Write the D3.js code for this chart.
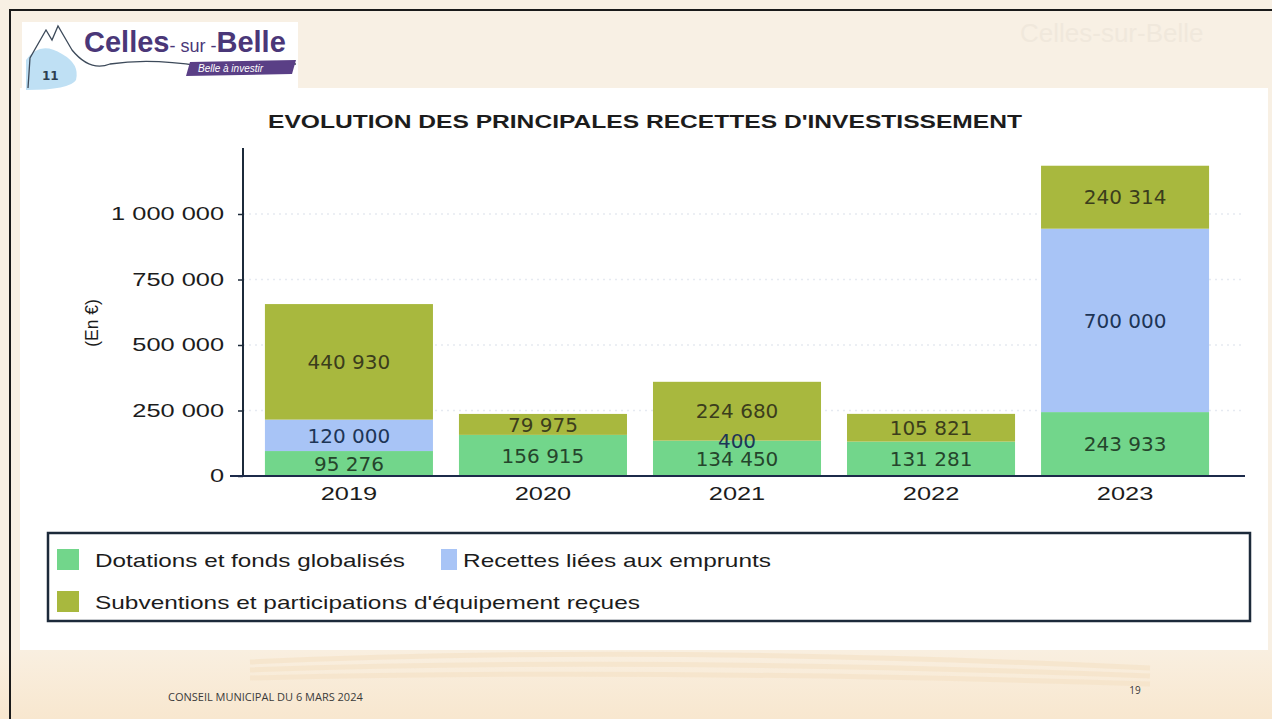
<!DOCTYPE html>
<html>
<head>
<meta charset="utf-8">
<script src="https://cdn.jsdelivr.net/npm/d3@7"></script>
<style>
  body { margin: 0; background: #f8efe2; }
  svg { display: block; }
</style>
</head>
<body>
<div id="chart"></div>
<script>
// ---- data ----
var years = ["2019", "2020", "2021", "2022", "2023"];
var dotations = [95276, 156915, 134450, 131281, 243933];
var emprunts = [120000, 0, 400, 0, 700000];
var subventions = [440930, 79975, 224680, 105821, 240314];
var yTicks = [0, 250000, 500000, 750000, 1000000];
var seriesNames = ["Dotations et fonds globalisés", "Recettes liées aux emprunts", "Subventions et participations d'équipement reçues"];
var seriesColors = ["#72d68b", "#a8c4f6", "#a8b83e"];
var labelColors = ["#25452c", "#1d3556", "#3b3d1c"];

var W = 1272, H = 719;
var svg = d3.select("#chart").append("svg").attr("width", W).attr("height", H);

// stretch a text horizontally (the slide fonts are wider than Arial)
function stretch(sel, factor) {
    sel.each(function () {
        var w = this.getComputedTextLength();
        d3.select(this).attr("textLength", w * factor).attr("lengthAdjust", "spacingAndGlyphs");
    });
}

// slide background
var defs = svg.append("defs");
var grad = defs.append("linearGradient").attr("id", "bottomGrad").attr("x1", 0).attr("y1", 0).attr("x2", 0).attr("y2", 1);
grad.append("stop").attr("offset", "0%").attr("stop-color", "#f9efe0");
grad.append("stop").attr("offset", "100%").attr("stop-color", "#f8e7cf");
svg.append("rect").attr("width", W).attr("height", H).attr("fill", "#f8f0e4");
svg.append("rect").attr("x", 0).attr("y", 650).attr("width", W).attr("height", 69).attr("fill", "url(#bottomGrad)");
// soft waves at bottom
[662, 670, 678].forEach(function (y, i) {
    svg.append("path")
        .attr("d", "M 250 " + y + " Q 640 " + (y - 18 + i * 4) + " 1150 " + (y + 6))
        .attr("fill", "none").attr("stroke", "#f5e2c8").attr("stroke-width", 5).attr("opacity", 0.7);
});
// white content area
svg.append("rect").attr("x", 20).attr("y", 88).attr("width", 1248).attr("height", 562).attr("fill", "#ffffff");

// ghost of logo bleeding through, top right
svg.append("text").attr("x", 1020).attr("y", 42).attr("font-family", "Liberation Sans, Arial, sans-serif")
    .attr("font-size", 26).attr("fill", "#f0e8dc").text("Celles-sur-Belle");

// frame lines
svg.append("line").attr("x1", 9).attr("x2", W).attr("y1", 10).attr("y2", 10).attr("stroke", "#1a1a1a").attr("stroke-width", 2);
svg.append("line").attr("x1", 10).attr("x2", 10).attr("y1", 10).attr("y2", H).attr("stroke", "#1a1a1a").attr("stroke-width", 2);

// ---- logo ----
var logo = svg.append("g");
logo.append("rect").attr("x", 22).attr("y", 22).attr("width", 276).attr("height", 68).attr("fill", "#ffffff");
logo.append("path")
    .attr("d", "M 26 60 Q 40 40 62 54 Q 80 64 76 80 Q 70 90 26 90 Z")
    .attr("fill", "#bfe0f4");
logo.append("path")
    .attr("d", "M 28 88 L 30 58 L 46 30 L 52 40 L 58 26 L 72 50 Q 90 72 110 64 Q 150 58 200 66 L 296 64")
    .attr("fill", "none").attr("stroke", "#3d4a5a").attr("stroke-width", 1.3);
logo.append("text").attr("x", 42).attr("y", 80).attr("font-family", "DejaVu Sans, sans-serif")
    .attr("font-size", 12).attr("font-weight", "bold").attr("fill", "#2c3e50").text("11");
var logoText = logo.append("text").attr("x", 84).attr("y", 52)
    .attr("font-family", "Liberation Sans, Arial, sans-serif").attr("font-weight", "bold").attr("fill", "#4a3778");
logoText.append("tspan").attr("font-size", 29).text("Celles");
logoText.append("tspan").attr("font-size", 18).attr("font-weight", "normal").text("- sur -");
logoText.append("tspan").attr("font-size", 29).text("Belle");
logo.append("path").attr("d", "M 190 62 L 296 60 L 292 74 L 186 76 Z").attr("fill", "#5a3f86");
logo.append("text").attr("x", 198).attr("y", 72).attr("font-family", "Liberation Sans, Arial, sans-serif")
    .attr("font-size", 10).attr("font-style", "italic").attr("fill", "#ffffff").text("Belle à investir");

// ---- chart ----
svg.append("text").attr("x", 645).attr("y", 128).attr("text-anchor", "middle")
    .attr("font-family", "Liberation Sans, Arial, sans-serif").attr("font-weight", "bold")
    .attr("font-size", 19).attr("fill", "#1c1c1c")
    .attr("textLength", 754).attr("lengthAdjust", "spacingAndGlyphs")
    .text("EVOLUTION DES PRINCIPALES RECETTES D'INVESTISSEMENT");

var x0 = 243, x1 = 1231, yBase = 476;
var x = d3.scaleBand().domain(years).range([x0, x1]).paddingInner(0.134).paddingOuter(0.113);
var y = d3.scaleLinear().domain([0, 1000000]).range([yBase, 214]);

// faint dotted gridlines
svg.append("g").selectAll("line").data(yTicks.slice(1)).enter().append("line")
    .attr("x1", x0).attr("x2", 1245)
    .attr("y1", d => y(d)).attr("y2", d => y(d))
    .attr("stroke", "#e6eaf1").attr("stroke-width", 1.5).attr("stroke-dasharray", "2,4");

var rows = years.map(function (yr, i) {
    return { year: yr, s0: dotations[i], s1: emprunts[i], s2: subventions[i] };
});
var stack = d3.stack().keys(["s0", "s1", "s2"])(rows);

var layers = svg.append("g").selectAll("g").data(stack).enter().append("g")
    .attr("fill", (d, i) => seriesColors[i]);
layers.selectAll("rect").data(d => d).enter().append("rect")
    .attr("x", d => x(d.data.year))
    .attr("width", x.bandwidth())
    .attr("y", d => y(d[1]))
    .attr("height", d => y(d[0]) - y(d[1]));

// value labels
var fmt = function (v) { return d3.format(",")(v).replace(/,/g, " "); };
var labels = svg.append("g").attr("font-family", "DejaVu Sans, sans-serif").attr("font-size", 20)
    .attr("text-anchor", "middle");
stack.forEach(function (layer, li) {
    layer.forEach(function (d) {
        var v = d[1] - d[0];
        if (v <= 0) return;
        var cy = (y(d[0]) + y(d[1])) / 2;
        labels.append("text")
            .attr("x", x(d.data.year) + x.bandwidth() / 2)
            .attr("y", cy)
            .attr("dy", "0.36em")
            .attr("fill", labelColors[li])
            .text(fmt(v));
    });
});

// axes
var yAxis = svg.append("g").attr("transform", "translate(" + x0 + ",0)")
    .call(d3.axisLeft(y).tickValues(yTicks).tickSize(5).tickPadding(14).tickFormat(d => fmt(d)));
yAxis.select(".domain").remove();
yAxis.selectAll("line").attr("stroke", "#1c2a3a").attr("stroke-width", 1.5);
yAxis.selectAll("text").attr("font-family", "Liberation Sans, Arial, sans-serif").attr("font-size", 17.5).attr("fill", "#1c1c1c");
stretch(yAxis.selectAll("text"), 1.45);
svg.append("line").attr("x1", x0).attr("x2", x0).attr("y1", 148).attr("y2", yBase)
    .attr("stroke", "#1c2a3a").attr("stroke-width", 2);

var xAxis = svg.append("g").attr("transform", "translate(0," + yBase + ")")
    .call(d3.axisBottom(x).tickSize(0).tickPadding(12));
xAxis.select(".domain").remove();
xAxis.selectAll("text").attr("font-family", "Liberation Sans, Arial, sans-serif").attr("font-size", 17.5).attr("fill", "#1c1c1c");
stretch(xAxis.selectAll("text"), 1.45);
svg.append("line").attr("x1", 230).attr("x2", 1245).attr("y1", yBase).attr("y2", yBase)
    .attr("stroke", "#1c2a4a").attr("stroke-width", 2.2);

var yLabel = svg.append("text").attr("transform", "translate(98,323) rotate(-90)").attr("text-anchor", "middle")
    .attr("font-family", "Liberation Sans, Arial, sans-serif").attr("font-size", 17.5).attr("fill", "#1c1c1c")
    .text("(En €)");

// ---- legend ----
var legend = svg.append("g");
legend.append("rect").attr("x", 48).attr("y", 533).attr("width", 1202).attr("height", 88)
    .attr("fill", "#ffffff").attr("stroke", "#1c2a3a").attr("stroke-width", 2.5);
var legendPos = [{ x: 57, y: 549, tx: 95, w: 310 }, { x: 441, y: 549, tx: 463, w: 308 }, { x: 57, y: 591, tx: 95, w: 545 }];
legendPos.forEach(function (p, i) {
    legend.append("rect").attr("x", p.x).attr("y", p.y).attr("width", i === 1 ? 16 : 22).attr("height", 21)
        .attr("fill", seriesColors[i]);
    legend.append("text").attr("x", p.tx).attr("y", p.y + 11).attr("dy", "0.35em")
        .attr("font-family", "Liberation Sans, Arial, sans-serif").attr("font-size", 19).attr("fill", "#1c1c1c")
        .attr("textLength", p.w).attr("lengthAdjust", "spacingAndGlyphs")
        .text(seriesNames[i]);
});

// ---- footer ----
svg.append("text").attr("x", 168).attr("y", 701).attr("font-family", "Open Sans, sans-serif")
    .attr("font-size", 11).attr("fill", "#3a3a3a").text("CONSEIL MUNICIPAL DU 6 MARS 2024");
svg.append("text").attr("x", 1135).attr("y", 694).attr("text-anchor", "middle").attr("font-family", "Open Sans, sans-serif")
    .attr("font-size", 10).attr("fill", "#3a3a3a").text("19");
</script>
</body>
</html>
